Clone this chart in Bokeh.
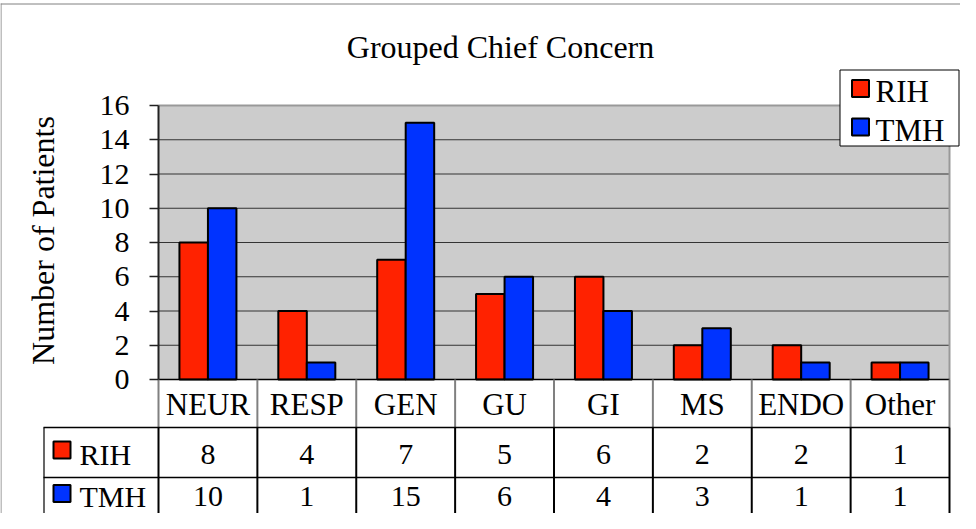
import numpy as np
from bokeh.plotting import figure
from bokeh.models import Range1d, LinearAxis, FixedTicker
from bokeh.embed import file_html
from bokeh.resources import INLINE
from bokeh.core.properties import value

# ---------------- data ----------------
title_text = "Grouped Chief Concern"
y_label = "Number of Patients"
categories = ["NEUR", "RESP", "GEN", "GU", "GI", "MS", "ENDO", "Other"]
series_names = ["RIH", "TMH"]
rih = [8, 4, 7, 5, 6, 2, 2, 1]
tmh = [10, 1, 15, 6, 4, 3, 1, 1]
y_ticks = [0, 2, 4, 6, 8, 10, 12, 14, 16]
colors = ["#FF2200", "#0033FF"]

# ---------------- layout (page pixels) ----------------
W, H = 960, 513
OX, OY = 8, 8
L, R, T, B = 166, 957, 113, 387
n = len(categories)
ymax = y_ticks[-1]
kx = (R - L) / n
ky = (B - T) / ymax


def X(px):
    return (px - L) / kx


def Y(py):
    return (B - py) / ky


FONT = value("Liberation Serif")

p = figure(width=W, height=H,
           x_range=Range1d(X(OX), X(OX + W)),
           y_range=Range1d(Y(OY + H), Y(OY)),
           output_backend="svg", toolbar_location=None,
           x_axis_location=None, y_axis_location=None,
           min_border=0, outline_line_color=None,
           background_fill_color="white", border_fill_color="white")
p.grid.visible = False

# plot area background
p.quad(left=[0], right=[n], bottom=[0], top=[ymax],
       fill_color="#cccccc", line_color=None)

# horizontal gridlines
gl = y_ticks[1:-1]
p.segment(x0=[0] * len(gl), x1=[n] * len(gl), y0=gl, y1=gl,
          line_color="#333333", line_width=1)
# plot area border (top/right)
p.segment(x0=[0, n], x1=[n, n], y0=[ymax, 0], y1=[ymax, ymax],
          line_color="#999999", line_width=2)

# bars
idx = np.arange(n) + 0.5
bw = 28.5 / kx
for vals, col, off in [(rih, colors[0], -bw / 2), (tmh, colors[1], bw / 2)]:
    p.vbar(x=idx + off, top=vals, width=bw, bottom=0,
           fill_color=col, line_color="black", line_width=2)

# category axis line
p.segment(x0=[0], x1=[n], y0=[0], y1=[0], line_color="black", line_width=1.5)

# y axis
yaxis = LinearAxis(fixed_location=0, ticker=FixedTicker(ticks=y_ticks),
                   bounds=(0, ymax),
                   axis_line_color="#222222", axis_line_width=2,
                   major_tick_out=9, major_tick_in=0,
                   major_tick_line_color="#222222", major_tick_line_width=1.5,
                   minor_tick_out=0, minor_tick_in=0,
                   major_label_standoff=20,
                   major_label_text_font="Liberation Serif",
                   major_label_text_font_size="30px",
                   major_label_text_color="black")
p.add_layout(yaxis, "left")

# title
p.text(x=[X(508)], y=[Y(54)], text=[title_text], text_font=FONT,
       text_font_size="32px", text_align="center",
       text_baseline="middle", text_color="black")

# y label
p.text(x=[X(50)], y=[Y(248)], text=[y_label], angle=np.pi / 2,
       text_font=FONT, text_font_size="32px", text_align="center",
       text_baseline="middle", text_color="black")

# ---------------- data table ----------------
bottom_y = Y(540)
kk = list(range(n + 1))
row1_line, row2_line = 435, 485
# header row verticals (gray)
p.segment(x0=kk, x1=kk, y0=[0] * len(kk), y1=[Y(row1_line)] * len(kk),
          line_color="#808080", line_width=2)
# data row verticals (black)
p.segment(x0=kk, x1=kk, y0=[Y(row1_line)] * len(kk), y1=[bottom_y] * len(kk),
          line_color="black", line_width=2)
p.segment(x0=[X(51.5)], x1=[X(51.5)], y0=[Y(row1_line)], y1=[bottom_y],
          line_color="black", line_width=1.2)
# horizontals
p.segment(x0=[X(51), X(51)], x1=[n, n], y0=[Y(row1_line), Y(row2_line)],
          y1=[Y(row1_line), Y(row2_line)], line_color="black", line_width=1.5)

# category labels
p.text(x=idx, y=[Y(412)] * n, text=categories, text_font=FONT,
       text_font_size="31px", text_align="center",
       text_baseline="middle", text_color="black")
# values
for vals, cy in [(rih, 462), (tmh, 504)]:
    p.text(x=idx, y=[Y(cy)] * n, text=[str(v) for v in vals],
           text_font=FONT, text_font_size="30px", text_align="center",
           text_baseline="middle", text_color="black")
# row legend keys
p.scatter(x=[X(69.5), X(69.5)], y=[Y(457.5), Y(501)], marker="square",
          size=17, fill_color=colors, line_color="black", line_width=2)
p.text(x=[X(87), X(87)], y=[Y(462), Y(504)], text=series_names,
       text_font=FONT, text_font_size="30px", text_align="left",
       text_baseline="middle", text_color="black")

# ---------------- legend ----------------
p.quad(left=[X(847.5)], right=[X(966.5)], top=[Y(77.5)], bottom=[Y(153.5)],
       fill_color="white", line_color="black", line_width=1)
p.scatter(x=[X(868), X(868)], y=[Y(96), Y(134.5)], marker="square",
          size=17, fill_color=colors, line_color="black", line_width=2)
p.text(x=[X(883), X(883)], y=[Y(99), Y(138)], text=series_names,
       text_font=FONT, text_font_size="31px", text_align="left",
       text_baseline="middle", text_color="black")

# outer chart border (top/left visible)
p.segment(x0=[X(8), X(8.5)], x1=[X(968), X(8.5)], y0=[Y(11.5), Y(11)],
          y1=[Y(11.5), Y(530)], line_color="#808080", line_width=1)

open("out.html", "w").write(file_html(p, INLINE))
